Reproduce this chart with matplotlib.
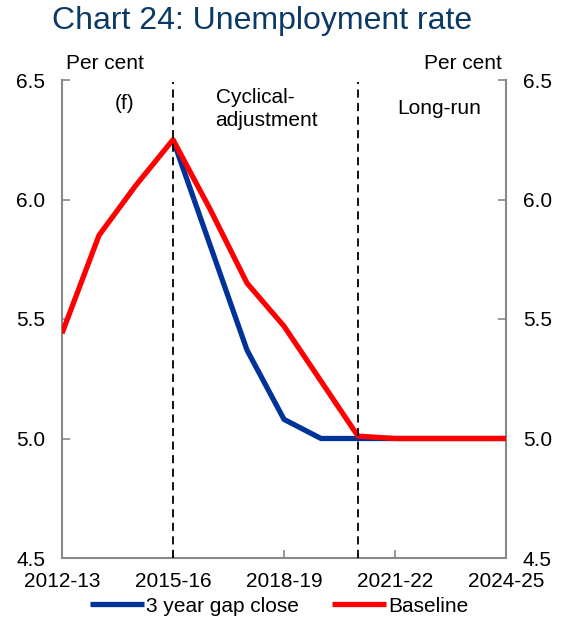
import matplotlib
matplotlib.use("Agg")
import matplotlib.pyplot as plt

years = ["2012-13", "2013-14", "2014-15", "2015-16", "2016-17", "2017-18", "2018-19",
         "2019-20", "2020-21", "2021-22", "2022-23", "2023-24", "2024-25"]
gap_close = [None, None, None, 6.25, 5.81, 5.37, 5.08, 5.00, 5.00, 5.00, 5.00, 5.00, 5.00]
baseline = [5.44, 5.85, 6.06, 6.25, 5.96, 5.65, 5.47, 5.24, 5.01, 5.00, 5.00, 5.00, 5.00]
tick_labels = ["2012-13", "2015-16", "2018-19", "2021-22", "2024-25"]
yticks = [4.5, 5.0, 5.5, 6.0, 6.5]
dividers = ["2015-16", "2020-21"]

plt.rcParams['font.family'] = ['Liberation Sans', 'DejaVu Sans']

fig = plt.figure(figsize=(5.64, 6.24), dpi=100)
ax = fig.add_axes([62/564, 1-558/624, (506-62)/564, (558-80)/624])

x = list(range(len(years)))
gx = [i for i, v in zip(x, gap_close) if v is not None]
gy = [v for v in gap_close if v is not None]
l1, = ax.plot(gx, gy, color='#003399', lw=3.8, solid_capstyle='butt', label='3 year gap close', zorder=3)
l2, = ax.plot(x, baseline, color='#FF0000', lw=3.8, solid_capstyle='butt', label='Baseline', zorder=4)

for d in dividers:
    xi = years.index(d)
    ax.axvline(xi, ymin=0, ymax=0.995, color='black', lw=1.3, ls=(0, (4.5, 3)), zorder=5)

ax.set_xlim(0, len(years)-1)
ax.set_ylim(4.5, 6.5)
ax.set_xticks([years.index(t) for t in tick_labels])
ax.set_xticklabels(tick_labels)
ax.set_yticks(yticks)
ax.set_yticklabels([f"{v:.1f}" for v in yticks])
ax.yaxis.set_ticks_position('both')
ax.tick_params(axis='y', direction='in', length=6, width=1.2, color='#888888',
               labelsize=15, labelright=True, labelleft=True, pad=12)
ax.tick_params(axis='x', direction='in', length=6, width=1.2, color='#888888',
               labelsize=15, pad=10)
for s in ['left', 'right', 'bottom']:
    ax.spines[s].set_color('#888888')
    ax.spines[s].set_linewidth(1.5)
ax.spines['top'].set_visible(False)

ax.text(0.01, 1.015, "Per cent", transform=ax.transAxes, fontsize=15, ha='left', va='bottom')
ax.text(0.99, 1.015, "Per cent", transform=ax.transAxes, fontsize=15, ha='right', va='bottom')
ax.text(1.7, 6.4, "(f)", fontsize=15, ha='center', va='center')
ax.text(4.15, 6.465, "Cyclical-\nadjustment", fontsize=15, ha='left', va='top', linespacing=1.25)
ax.text(10.2, 6.38, "Long-run", fontsize=15, ha='center', va='center')

fig.text(52/564, 1-21/624, "Chart 24: Unemployment rate", fontsize=23, color='#0B3A66',
         ha='left', va='center')

fig.legend(handles=[l1, l2], loc='center', bbox_to_anchor=(0.495, 1-606/624), ncol=2,
           frameon=False, fontsize=15, handlelength=2.6, handletextpad=0.1,
           columnspacing=1.6, borderaxespad=0)

fig.savefig("out.png", dpi=100)
